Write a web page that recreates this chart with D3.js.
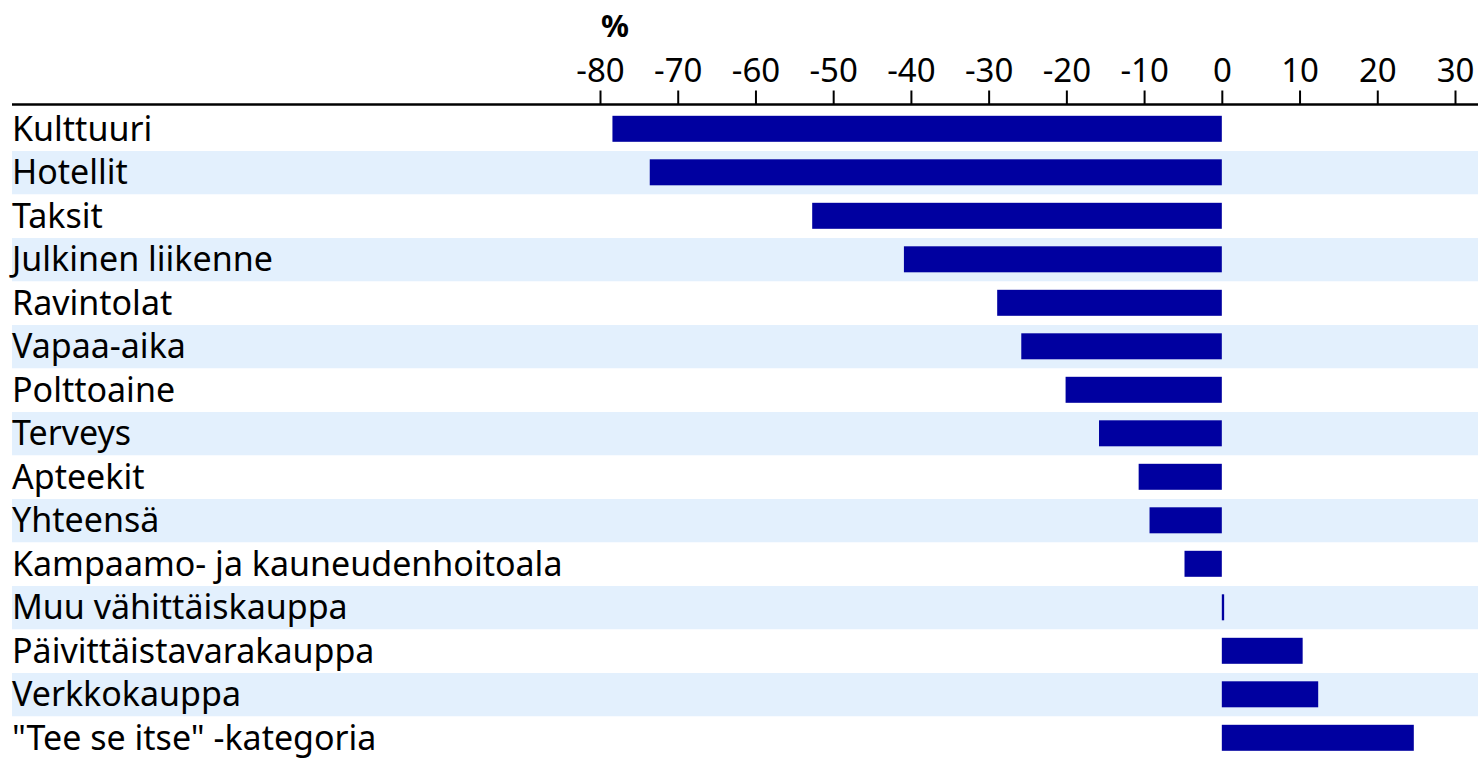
<!DOCTYPE html>
<html>
<head>
<meta charset="utf-8">
<script src="https://cdn.jsdelivr.net/npm/d3@7"></script>
<style>
  body { margin: 0; background: #fff; }
  text { font-family: "Noto Sans", sans-serif; fill: #000; }
</style>
</head>
<body>
<div id="chart"></div>
<script>
var width = 1481;
var height = 759;

var categories = ["Kulttuuri", "Hotellit", "Taksit", "Julkinen liikenne", "Ravintolat",
    "Vapaa-aika", "Polttoaine", "Terveys", "Apteekit", "Yhteensä",
    "Kampaamo- ja kauneudenhoitoala", "Muu vähittäiskauppa", "Päivittäistavarakauppa",
    "Verkkokauppa", "\"Tee se itse\" -kategoria"];
var values = [-78.4, -73.6, -52.7, -40.9, -28.9, -25.8, -20.1, -15.8, -10.7, -9.3, -4.8, 0.3, 10.4, 12.4, 24.7];
var tickValues = [-80, -70, -60, -50, -40, -30, -20, -10, 0, 10, 20, 30];
var unitLabel = "%";

var svg = d3.select("#chart").append("svg").attr("width", width).attr("height", height);

var x = d3.scaleLinear().domain([-80, 30]).range([600, 1455]);
var y = d3.scaleBand().domain(categories).range([107.5, 760]).paddingInner(0).paddingOuter(0);

// alternating row bands
svg.append("g").selectAll("rect.band")
    .data(categories)
    .join("rect")
    .attr("class", "band")
    .attr("x", 12).attr("width", 1466)
    .attr("y", function(d) { return y(d); })
    .attr("height", y.bandwidth())
    .attr("fill", function(d, i) { return i % 2 ? "#e3f0fd" : "#fff"; });

// bars
var barH = 26;
svg.append("g").selectAll("rect.bar")
    .data(values)
    .join("rect")
    .attr("class", "bar")
    .attr("x", function(d) { return x(Math.min(0, d)); })
    .attr("width", function(d) { return Math.abs(x(d) - x(0)); })
    .attr("y", function(d, i) { return y(categories[i]) + 8.3; })
    .attr("height", barH)
    .attr("fill", "#0000a0");

// category labels
svg.append("g").selectAll("text.cat")
    .data(categories)
    .join("text")
    .attr("class", "cat")
    .attr("x", 12)
    .attr("y", function(d) { return y(d) + y.bandwidth() / 2 + 11.5; })
    .attr("font-size", 34)
    .text(function(d) { return d; });

// top axis
var axis = d3.axisTop(x).tickValues(tickValues).tickSize(14).tickPadding(9)
    .tickFormat(function(d) { return d < 0 ? "-" + Math.abs(d) : d; });
var gAxis = svg.append("g").attr("transform", "translate(0,104.5)").call(axis);
gAxis.select(".domain").remove();
gAxis.selectAll(".tick line").attr("stroke", "#000").attr("stroke-width", 2);
gAxis.selectAll(".tick text").attr("font-size", 33).attr("font-family", "Noto Sans, sans-serif").attr("fill", "#000");
svg.append("line").attr("x1", 12).attr("x2", 1478).attr("y1", 104.5).attr("y2", 104.5)
    .attr("stroke", "#000").attr("stroke-width", 2.5);

svg.append("text").attr("x", 615).attr("y", 37).attr("text-anchor", "middle")
    .attr("font-size", 31).attr("font-weight", "bold").text(unitLabel);
</script>
</body>
</html>
